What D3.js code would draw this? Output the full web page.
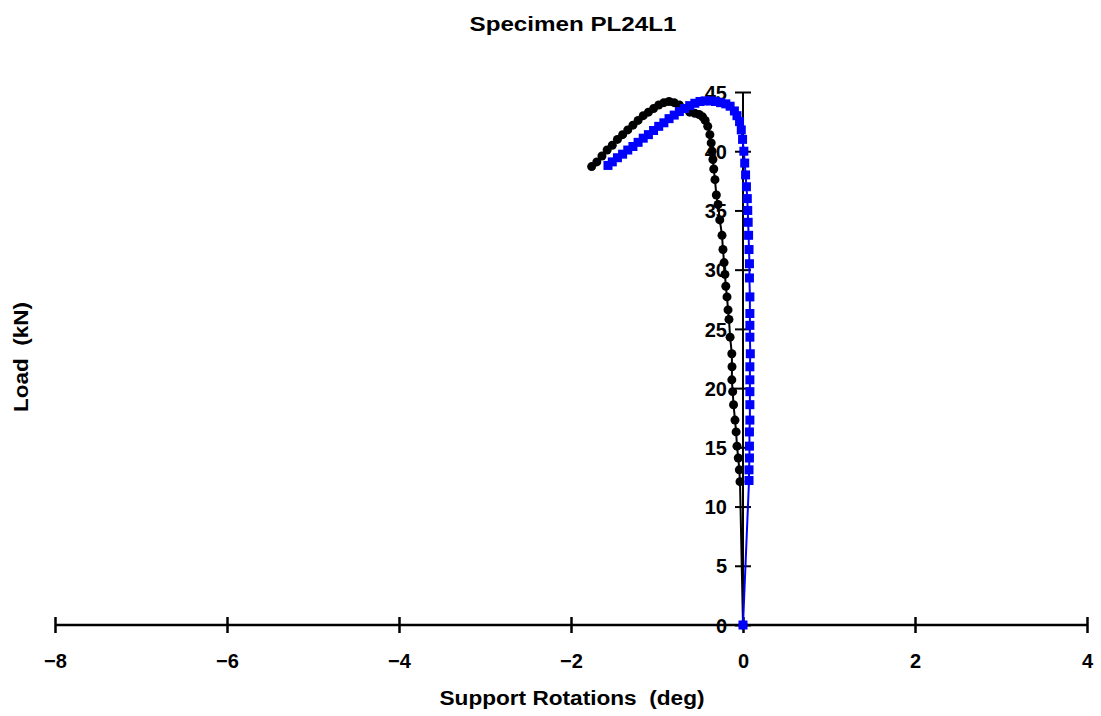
<!DOCTYPE html>
<html>
<head>
<meta charset="utf-8">
<script src="https://cdn.jsdelivr.net/npm/d3@7"></script>
<style>
  html, body { margin: 0; padding: 0; background: #fff; }
  svg text { font-family: "Liberation Sans", Arial, sans-serif; font-weight: bold; fill: #000; white-space: pre; }
</style>
</head>
<body>
<svg id="chart" width="1101" height="716"></svg>
<script>
// Specimen PL24L1: load against support rotation at the two supports
const chartTitle = "Specimen PL24L1";
const xTitle = "Support Rotations  (deg)";
const yTitle = "Load  (kN)";

const xTicks = [-8, -6, -4, -2, 0, 2, 4];
const yTicks = [0, 5, 10, 15, 20, 25, 30, 35, 40, 45];

// Support 1 (black, circles): rotation in degrees
const rotA = [0, -0.035, -0.043, -0.055, -0.07, -0.08, -0.093, -0.11, -0.12, -0.13, -0.128, -0.13, -0.15, -0.163,
  -0.174, -0.186, -0.2, -0.21, -0.22, -0.233, -0.244, -0.27, -0.29, -0.31, -0.326, -0.34, -0.35, -0.36, -0.37,
  -0.385, -0.41, -0.44, -0.47, -0.51, -0.56, -0.62, -0.68, -0.74, -0.80, -0.86, -0.92, -0.98, -1.04, -1.10, -1.16,
  -1.22, -1.28, -1.34, -1.40, -1.46, -1.52, -1.58, -1.64, -1.70, -1.76];
// Support 1 load in kN
const loadA = [0, 12.1, 13.1, 14.1, 15.1, 16.3, 17.3, 18.6, 19.7, 20.7, 21.8, 22.9, 24.3, 25.8,
  26.6, 27.7, 28.6, 29.6, 30.6, 31.7, 32.9, 34.2, 35.5, 36.3, 37.6, 38.5, 39.3, 40.0, 40.7,
  41.4, 42.1, 42.6, 42.9, 43.1, 43.2, 43.3, 43.6, 43.9, 44.1, 44.2, 44.1, 43.9, 43.6, 43.3, 43.0,
  42.6, 42.2, 41.8, 41.4, 41.0, 40.5, 40.1, 39.6, 39.1, 38.7];

// Support 2 (blue, squares): rotation in degrees
const rotB = [0, 0.07, 0.07, 0.075, 0.075, 0.075, 0.08, 0.08, 0.08, 0.08, 0.08, 0.085, 0.08, 0.08, 0.08, 0.08,
  0.075, 0.075, 0.07, 0.065, 0.06, 0.055, 0.05, 0.04, 0.03, 0.02, 0.01, -0.005, -0.02, -0.04, -0.07, -0.10,
  -0.15, -0.20, -0.26, -0.32, -0.38, -0.44, -0.50, -0.56, -0.62, -0.68, -0.74, -0.80, -0.86, -0.92, -0.98,
  -1.04, -1.10, -1.16, -1.22, -1.28, -1.34, -1.40, -1.46, -1.52, -1.57];
// Support 2 load in kN
const loadB = [0, 12.2, 13.1, 14.1, 15.1, 16.3, 17.3, 18.6, 19.7, 20.7, 21.8, 22.9, 24.3, 25.3, 26.3, 27.7,
  29.3, 30.5, 31.7, 32.9, 34.0, 35.0, 36.0, 37.0, 38.0, 39.0, 40.0, 41.0, 41.8, 42.5, 43.0, 43.4,
  43.8, 44.0, 44.1, 44.2, 44.25, 44.25, 44.2, 44.05, 43.85, 43.6, 43.35, 43.05, 42.75, 42.4, 42.1,
  41.75, 41.4, 41.1, 40.75, 40.4, 40.1, 39.75, 39.45, 39.1, 38.8];

const svg = d3.select("#chart");

const x = d3.scaleLinear().domain([-8, 4]).range([55, 1087]);
const y = d3.scaleLinear().domain([0, 45]).range([625, 92]);

// Title and axis titles (wide bold lettering)
svg.append("text").attr("x", 573).attr("y", 31).attr("text-anchor", "middle")
  .attr("textLength", 207).attr("lengthAdjust", "spacingAndGlyphs")
  .style("font-size", "21px").text(chartTitle);
svg.append("text").attr("x", 572).attr("y", 705).attr("text-anchor", "middle")
  .attr("textLength", 265).attr("lengthAdjust", "spacingAndGlyphs")
  .style("font-size", "20px").text(xTitle);
svg.append("text").attr("transform", "translate(28,357) rotate(-90)").attr("text-anchor", "middle")
  .attr("textLength", 110).attr("lengthAdjust", "spacingAndGlyphs")
  .style("font-size", "20px").text(yTitle);

// X axis along load = 0 with crossing ticks
const xAxisG = svg.append("g").attr("transform", `translate(0,${y(0)})`)
  .call(d3.axisBottom(x).tickValues(xTicks).tickSize(0).tickPadding(0).tickFormat(d3.format("d")));
xAxisG.select(".domain").remove();
xAxisG.selectAll(".tick text").remove();
svg.append("line").attr("x1", x(-8)).attr("x2", x(4)).attr("y1", y(0)).attr("y2", y(0))
  .attr("stroke", "#000").attr("stroke-width", 2.5);
xAxisG.selectAll(".tick line").attr("y1", -8).attr("y2", 8).attr("stroke", "#000").attr("stroke-width", 2.5);
xAxisG.selectAll(".tick").append("text").attr("y", 43).attr("text-anchor", "middle")
  .style("font-size", "20px").text(d => d3.format("d")(d));

// Y axis along rotation = 0 with crossing ticks
const yAxisG = svg.append("g").attr("transform", `translate(${x(0)},0)`)
  .call(d3.axisLeft(y).tickValues(yTicks).tickSize(0).tickPadding(0));
yAxisG.select(".domain").remove();
yAxisG.selectAll(".tick text").remove();
svg.append("line").attr("x1", x(0)).attr("x2", x(0)).attr("y1", y(0)).attr("y2", y(45))
  .attr("stroke", "#000").attr("stroke-width", 2);
yAxisG.selectAll(".tick line").attr("x1", -8).attr("x2", 8).attr("stroke", "#000").attr("stroke-width", 2);
yAxisG.selectAll(".tick").append("text").attr("x", -16).attr("dy", "0.36em").attr("text-anchor", "end")
  .style("font-size", "20px").text(d => d);

// Series
const seriesA = rotA.map((r, i) => ({ r, p: loadA[i] }));
const seriesB = rotB.map((r, i) => ({ r, p: loadB[i] }));
const line = d3.line().x(d => x(d.r)).y(d => y(d.p));

const gA = svg.append("g");
gA.append("path").datum(seriesA).attr("d", line).attr("fill", "none").attr("stroke", "#000").attr("stroke-width", 2);
gA.selectAll("circle").data(seriesA).join("circle")
  .attr("cx", d => x(d.r)).attr("cy", d => y(d.p)).attr("r", 4.5).attr("fill", "#000");

const gB = svg.append("g");
gB.append("path").datum(seriesB).attr("d", line).attr("fill", "none").attr("stroke", "#0000ff").attr("stroke-width", 2);
gB.selectAll("rect").data(seriesB).join("rect")
  .attr("x", d => x(d.r) - 4.5).attr("y", d => y(d.p) - 4.5).attr("width", 9).attr("height", 9).attr("fill", "#0000ff");
</script>
</body>
</html>
